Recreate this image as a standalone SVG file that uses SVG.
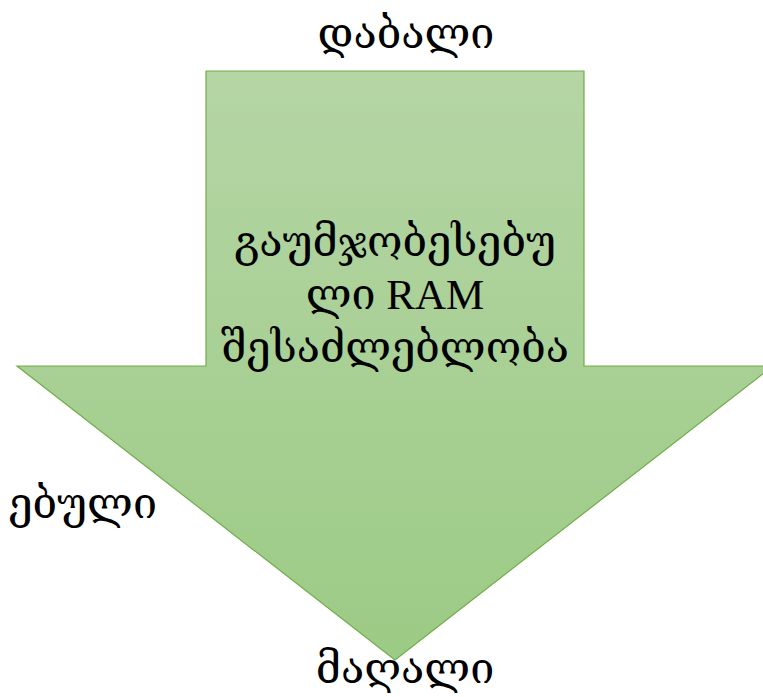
<svg xmlns="http://www.w3.org/2000/svg" width="763" height="697" viewBox="0 0 763 697">
<style>
.t{font-family:"Liberation Serif","DejaVu Serif",serif;font-size:43px;fill:#000;text-anchor:middle}
.l{text-anchor:end}
</style>
<defs>
<linearGradient id="g" x1="0" y1="0" x2="0" y2="1">
<stop offset="0" stop-color="#b5d5a5"/>
<stop offset="1" stop-color="#9ccb85"/>
</linearGradient>
</defs>
<rect width="763" height="697" fill="#fff"/>
<g id="arrow">
<path d="M206,71 L584,71 L584,366 L773,366 L395,660 L17,366 L206,366 Z" fill="url(#g)" stroke="#70ad47" stroke-width="1.2" stroke-linejoin="miter"/>
<text class="t" x="395" y="256">გაუმჯობესებუ</text>
<text class="t" x="395" y="309">ლი RAM</text>
<text class="t" x="395" y="362">შესაძლებლობა</text>
</g>
<g id="top"><text class="t" x="406" y="48">დაბალი</text></g>
<g id="bottom"><text class="t" x="405" y="683">მაღალი</text></g>
<g id="left"><text class="t l" x="157" y="518">ებული</text></g>
<g id="connectors"></g>
</svg>
